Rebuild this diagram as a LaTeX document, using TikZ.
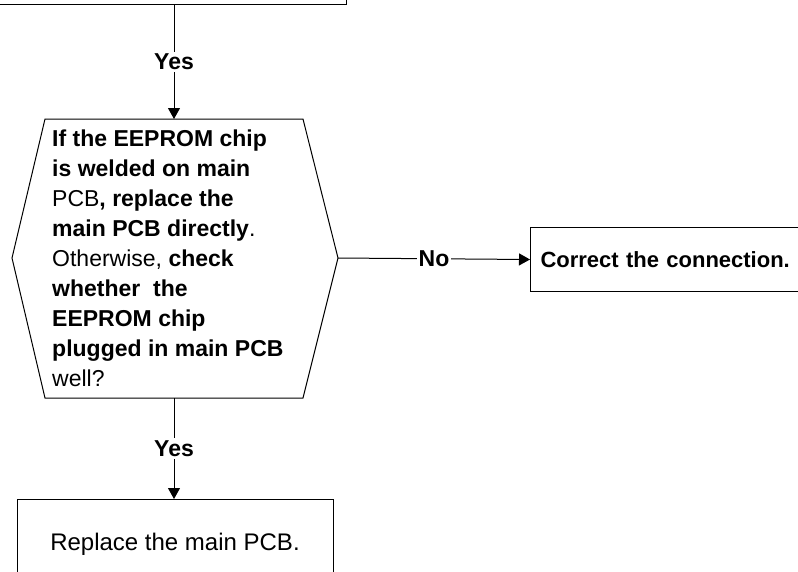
\documentclass[tikz,border=0pt]{standalone}
\usepackage{fontspec}
\setmainfont{Liberation Sans}
\usetikzlibrary{arrows.meta,positioning}
\tikzset{
  stepbox/.style ={draw,line width=1pt,inner sep=0pt},
  qtext/.style   ={align=left,inner sep=0pt,font=\fontsize{23}{30}\selectfont},
  answer/.style  ={fill=white,inner sep=2pt,font=\fontsize{23}{26}\selectfont\bfseries},
  flow/.style    ={line width=1pt,-{Triangle[length=11pt,width=12pt]}},
}

\begin{document}
\begin{tikzpicture}[x=1pt,y=-1pt]
  \useasboundingbox (0,0) rectangle (798,571);
  \clip (0,0) rectangle (798,571);
  % step above, cut off by the page
  \node[stepbox,minimum width=420pt,minimum height=80pt,anchor=south east](prev) at (347,5){};
  % question
  \coordinate (qn) at (174,119);  \coordinate (qs) at (174,398);
  \coordinate (qe) at (338,258);  \coordinate (qw) at (12,258);
  \draw[line width=1pt] (45,119)--(303,119)--(qe)--(303,398)--(45,398)--(qw)--cycle;
  \node[qtext,anchor=north west](q) at (52,130){\textbf{If the EEPROM chip}\\
    \textbf{is welded on main}\\
    PCB\textbf{, replace the}\\
    \textbf{main PCB directly}.\\
    Otherwise, \textbf{check}\\
    \textbf{whether\ \ the}\\
    \textbf{EEPROM chip}\\
    \textbf{plugged in main PCB}\\
    well?};
  % outcomes
  \node[stepbox,anchor=north west,minimum height=64pt,text width=290pt,inner xsep=10pt,align=left,
        font=\fontsize{22}{26}\selectfont\bfseries](fix) at (530,227){Correct the connection.};
  \node[stepbox,anchor=north,minimum width=316pt,minimum height=90pt,
        font=\fontsize{24}{26}\selectfont](repl) at (175,499){Replace the main PCB.};
  \draw[flow](prev.south -| qn)--node[answer]{Yes}(qn);
  \draw[flow](qe)--node[answer]{No}(fix.west);
  \draw[flow](qs)--node[answer]{Yes}(repl.north -| qs);
\end{tikzpicture}
\end{document}
